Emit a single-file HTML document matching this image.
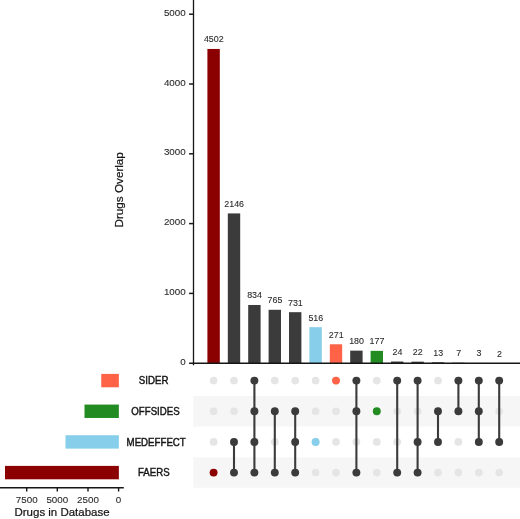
<!DOCTYPE html>
<html><head><meta charset="utf-8"><title>UpSet plot</title>
<style>
html,body{margin:0;padding:0;background:#fff}
svg{display:block}
text{font-family:"Liberation Sans",sans-serif;fill:#151515;stroke:#151515;stroke-width:0.22}
.s{stroke-width:0.42}
.t{fill:#2b2b2b;stroke:#2b2b2b;stroke-width:0.1}
</style></head><body>
<svg width="520" height="519" viewBox="0 0 520 519">
<rect width="520" height="519" fill="#fff"/>
<rect x="193.3" y="396.0" width="326.7" height="30.40" fill="#f6f6f6"/>
<rect x="193.3" y="457.4" width="326.7" height="30.35" fill="#f6f6f6"/>
<circle cx="213.60" cy="380.6" r="3.85" fill="#e5e5e5"/>
<circle cx="213.60" cy="411.27" r="3.85" fill="#e5e5e5"/>
<circle cx="213.60" cy="441.93" r="3.85" fill="#e5e5e5"/>
<circle cx="213.60" cy="472.6" r="3.85" fill="#e5e5e5"/>
<circle cx="234.00" cy="380.6" r="3.85" fill="#e5e5e5"/>
<circle cx="234.00" cy="411.27" r="3.85" fill="#e5e5e5"/>
<circle cx="234.00" cy="441.93" r="3.85" fill="#e5e5e5"/>
<circle cx="234.00" cy="472.6" r="3.85" fill="#e5e5e5"/>
<circle cx="254.40" cy="380.6" r="3.85" fill="#e5e5e5"/>
<circle cx="254.40" cy="411.27" r="3.85" fill="#e5e5e5"/>
<circle cx="254.40" cy="441.93" r="3.85" fill="#e5e5e5"/>
<circle cx="254.40" cy="472.6" r="3.85" fill="#e5e5e5"/>
<circle cx="274.80" cy="380.6" r="3.85" fill="#e5e5e5"/>
<circle cx="274.80" cy="411.27" r="3.85" fill="#e5e5e5"/>
<circle cx="274.80" cy="441.93" r="3.85" fill="#e5e5e5"/>
<circle cx="274.80" cy="472.6" r="3.85" fill="#e5e5e5"/>
<circle cx="295.20" cy="380.6" r="3.85" fill="#e5e5e5"/>
<circle cx="295.20" cy="411.27" r="3.85" fill="#e5e5e5"/>
<circle cx="295.20" cy="441.93" r="3.85" fill="#e5e5e5"/>
<circle cx="295.20" cy="472.6" r="3.85" fill="#e5e5e5"/>
<circle cx="315.60" cy="380.6" r="3.85" fill="#e5e5e5"/>
<circle cx="315.60" cy="411.27" r="3.85" fill="#e5e5e5"/>
<circle cx="315.60" cy="441.93" r="3.85" fill="#e5e5e5"/>
<circle cx="315.60" cy="472.6" r="3.85" fill="#e5e5e5"/>
<circle cx="336.00" cy="380.6" r="3.85" fill="#e5e5e5"/>
<circle cx="336.00" cy="411.27" r="3.85" fill="#e5e5e5"/>
<circle cx="336.00" cy="441.93" r="3.85" fill="#e5e5e5"/>
<circle cx="336.00" cy="472.6" r="3.85" fill="#e5e5e5"/>
<circle cx="356.40" cy="380.6" r="3.85" fill="#e5e5e5"/>
<circle cx="356.40" cy="411.27" r="3.85" fill="#e5e5e5"/>
<circle cx="356.40" cy="441.93" r="3.85" fill="#e5e5e5"/>
<circle cx="356.40" cy="472.6" r="3.85" fill="#e5e5e5"/>
<circle cx="376.80" cy="380.6" r="3.85" fill="#e5e5e5"/>
<circle cx="376.80" cy="411.27" r="3.85" fill="#e5e5e5"/>
<circle cx="376.80" cy="441.93" r="3.85" fill="#e5e5e5"/>
<circle cx="376.80" cy="472.6" r="3.85" fill="#e5e5e5"/>
<circle cx="397.20" cy="380.6" r="3.85" fill="#e5e5e5"/>
<circle cx="397.20" cy="411.27" r="3.85" fill="#e5e5e5"/>
<circle cx="397.20" cy="441.93" r="3.85" fill="#e5e5e5"/>
<circle cx="397.20" cy="472.6" r="3.85" fill="#e5e5e5"/>
<circle cx="417.60" cy="380.6" r="3.85" fill="#e5e5e5"/>
<circle cx="417.60" cy="411.27" r="3.85" fill="#e5e5e5"/>
<circle cx="417.60" cy="441.93" r="3.85" fill="#e5e5e5"/>
<circle cx="417.60" cy="472.6" r="3.85" fill="#e5e5e5"/>
<circle cx="438.00" cy="380.6" r="3.85" fill="#e5e5e5"/>
<circle cx="438.00" cy="411.27" r="3.85" fill="#e5e5e5"/>
<circle cx="438.00" cy="441.93" r="3.85" fill="#e5e5e5"/>
<circle cx="438.00" cy="472.6" r="3.85" fill="#e5e5e5"/>
<circle cx="458.40" cy="380.6" r="3.85" fill="#e5e5e5"/>
<circle cx="458.40" cy="411.27" r="3.85" fill="#e5e5e5"/>
<circle cx="458.40" cy="441.93" r="3.85" fill="#e5e5e5"/>
<circle cx="458.40" cy="472.6" r="3.85" fill="#e5e5e5"/>
<circle cx="478.80" cy="380.6" r="3.85" fill="#e5e5e5"/>
<circle cx="478.80" cy="411.27" r="3.85" fill="#e5e5e5"/>
<circle cx="478.80" cy="441.93" r="3.85" fill="#e5e5e5"/>
<circle cx="478.80" cy="472.6" r="3.85" fill="#e5e5e5"/>
<circle cx="499.20" cy="380.6" r="3.85" fill="#e5e5e5"/>
<circle cx="499.20" cy="411.27" r="3.85" fill="#e5e5e5"/>
<circle cx="499.20" cy="441.93" r="3.85" fill="#e5e5e5"/>
<circle cx="499.20" cy="472.6" r="3.85" fill="#e5e5e5"/>
<circle cx="213.60" cy="472.6" r="3.95" fill="#8b0000"/>
<line x1="234.00" y1="441.93" x2="234.00" y2="472.6" stroke="#3b3b3b" stroke-width="2.1"/>
<circle cx="234.00" cy="441.93" r="3.95" fill="#3b3b3b"/>
<circle cx="234.00" cy="472.6" r="3.95" fill="#3b3b3b"/>
<line x1="254.40" y1="380.6" x2="254.40" y2="472.6" stroke="#3b3b3b" stroke-width="2.1"/>
<circle cx="254.40" cy="380.6" r="3.95" fill="#3b3b3b"/>
<circle cx="254.40" cy="411.27" r="3.95" fill="#3b3b3b"/>
<circle cx="254.40" cy="441.93" r="3.95" fill="#3b3b3b"/>
<circle cx="254.40" cy="472.6" r="3.95" fill="#3b3b3b"/>
<line x1="274.80" y1="411.27" x2="274.80" y2="472.6" stroke="#3b3b3b" stroke-width="2.1"/>
<circle cx="274.80" cy="411.27" r="3.95" fill="#3b3b3b"/>
<circle cx="274.80" cy="472.6" r="3.95" fill="#3b3b3b"/>
<line x1="295.20" y1="411.27" x2="295.20" y2="472.6" stroke="#3b3b3b" stroke-width="2.1"/>
<circle cx="295.20" cy="411.27" r="3.95" fill="#3b3b3b"/>
<circle cx="295.20" cy="441.93" r="3.95" fill="#3b3b3b"/>
<circle cx="295.20" cy="472.6" r="3.95" fill="#3b3b3b"/>
<circle cx="315.60" cy="441.93" r="3.95" fill="#87ceeb"/>
<circle cx="336.00" cy="380.6" r="3.95" fill="#ff6347"/>
<line x1="356.40" y1="380.6" x2="356.40" y2="472.6" stroke="#3b3b3b" stroke-width="2.1"/>
<circle cx="356.40" cy="380.6" r="3.95" fill="#3b3b3b"/>
<circle cx="356.40" cy="411.27" r="3.95" fill="#3b3b3b"/>
<circle cx="356.40" cy="472.6" r="3.95" fill="#3b3b3b"/>
<circle cx="376.80" cy="411.27" r="3.95" fill="#228b22"/>
<line x1="397.20" y1="380.6" x2="397.20" y2="472.6" stroke="#3b3b3b" stroke-width="2.1"/>
<circle cx="397.20" cy="380.6" r="3.95" fill="#3b3b3b"/>
<circle cx="397.20" cy="472.6" r="3.95" fill="#3b3b3b"/>
<line x1="417.60" y1="380.6" x2="417.60" y2="472.6" stroke="#3b3b3b" stroke-width="2.1"/>
<circle cx="417.60" cy="380.6" r="3.95" fill="#3b3b3b"/>
<circle cx="417.60" cy="441.93" r="3.95" fill="#3b3b3b"/>
<circle cx="417.60" cy="472.6" r="3.95" fill="#3b3b3b"/>
<line x1="438.00" y1="411.27" x2="438.00" y2="441.93" stroke="#3b3b3b" stroke-width="2.1"/>
<circle cx="438.00" cy="411.27" r="3.95" fill="#3b3b3b"/>
<circle cx="438.00" cy="441.93" r="3.95" fill="#3b3b3b"/>
<line x1="458.40" y1="380.6" x2="458.40" y2="411.27" stroke="#3b3b3b" stroke-width="2.1"/>
<circle cx="458.40" cy="380.6" r="3.95" fill="#3b3b3b"/>
<circle cx="458.40" cy="411.27" r="3.95" fill="#3b3b3b"/>
<line x1="478.80" y1="380.6" x2="478.80" y2="441.93" stroke="#3b3b3b" stroke-width="2.1"/>
<circle cx="478.80" cy="380.6" r="3.95" fill="#3b3b3b"/>
<circle cx="478.80" cy="411.27" r="3.95" fill="#3b3b3b"/>
<circle cx="478.80" cy="441.93" r="3.95" fill="#3b3b3b"/>
<line x1="499.20" y1="380.6" x2="499.20" y2="441.93" stroke="#3b3b3b" stroke-width="2.1"/>
<circle cx="499.20" cy="380.6" r="3.95" fill="#3b3b3b"/>
<circle cx="499.20" cy="441.93" r="3.95" fill="#3b3b3b"/>
<rect x="207.40" y="48.96" width="12.4" height="314.24" fill="#8b0000"/>
<text x="213.80" y="42.46" class="t" font-size="8.9" text-anchor="middle">4502</text>
<rect x="227.80" y="213.41" width="12.4" height="149.79" fill="#3b3b3b"/>
<text x="234.20" y="206.91" class="t" font-size="8.9" text-anchor="middle">2146</text>
<rect x="248.20" y="304.99" width="12.4" height="58.21" fill="#3b3b3b"/>
<text x="254.60" y="298.49" class="t" font-size="8.9" text-anchor="middle">834</text>
<rect x="268.60" y="309.80" width="12.4" height="53.40" fill="#3b3b3b"/>
<text x="275.00" y="303.30" class="t" font-size="8.9" text-anchor="middle">765</text>
<rect x="289.00" y="312.18" width="12.4" height="51.02" fill="#3b3b3b"/>
<text x="295.40" y="305.68" class="t" font-size="8.9" text-anchor="middle">731</text>
<rect x="309.40" y="327.18" width="12.4" height="36.02" fill="#87ceeb"/>
<text x="315.80" y="320.68" class="t" font-size="8.9" text-anchor="middle">516</text>
<rect x="329.80" y="344.28" width="12.4" height="18.92" fill="#ff6347"/>
<text x="336.20" y="337.78" class="t" font-size="8.9" text-anchor="middle">271</text>
<rect x="350.20" y="350.64" width="12.4" height="12.56" fill="#3b3b3b"/>
<text x="356.60" y="344.14" class="t" font-size="8.9" text-anchor="middle">180</text>
<rect x="370.60" y="350.85" width="12.4" height="12.35" fill="#228b22"/>
<text x="377.00" y="344.35" class="t" font-size="8.9" text-anchor="middle">177</text>
<rect x="391.00" y="361.52" width="12.4" height="1.68" fill="#3b3b3b"/>
<text x="397.40" y="355.02" class="t" font-size="8.9" text-anchor="middle">24</text>
<rect x="411.40" y="361.66" width="12.4" height="1.54" fill="#3b3b3b"/>
<text x="417.80" y="355.16" class="t" font-size="8.9" text-anchor="middle">22</text>
<rect x="431.80" y="362.29" width="12.4" height="0.91" fill="#3b3b3b"/>
<text x="438.20" y="355.79" class="t" font-size="8.9" text-anchor="middle">13</text>
<rect x="452.20" y="362.71" width="12.4" height="0.49" fill="#3b3b3b"/>
<text x="458.60" y="356.21" class="t" font-size="8.9" text-anchor="middle">7</text>
<rect x="472.60" y="362.99" width="12.4" height="0.21" fill="#3b3b3b"/>
<text x="479.00" y="356.49" class="t" font-size="8.9" text-anchor="middle">3</text>
<rect x="493.00" y="363.06" width="12.4" height="0.14" fill="#3b3b3b"/>
<text x="499.40" y="356.56" class="t" font-size="8.9" text-anchor="middle">2</text>
<line x1="193.5" y1="0" x2="193.5" y2="365.2" stroke="#161616" stroke-width="1.3"/>
<line x1="189.1" y1="363.2" x2="520" y2="363.2" stroke="#161616" stroke-width="1.5"/>
<text x="185.7" y="364.70" class="t" font-size="9.8" text-anchor="end">0</text>
<line x1="189.1" y1="293.40" x2="193.5" y2="293.40" stroke="#161616" stroke-width="1.5"/>
<text x="185.7" y="294.90" class="t" font-size="9.8" text-anchor="end">1000</text>
<line x1="189.1" y1="223.60" x2="193.5" y2="223.60" stroke="#161616" stroke-width="1.5"/>
<text x="185.7" y="225.10" class="t" font-size="9.8" text-anchor="end">2000</text>
<line x1="189.1" y1="153.80" x2="193.5" y2="153.80" stroke="#161616" stroke-width="1.5"/>
<text x="185.7" y="155.30" class="t" font-size="9.8" text-anchor="end">3000</text>
<line x1="189.1" y1="84.00" x2="193.5" y2="84.00" stroke="#161616" stroke-width="1.5"/>
<text x="185.7" y="85.50" class="t" font-size="9.8" text-anchor="end">4000</text>
<line x1="189.1" y1="14.20" x2="193.5" y2="14.20" stroke="#161616" stroke-width="1.5"/>
<text x="185.7" y="15.70" class="t" font-size="9.8" text-anchor="end">5000</text>
<text transform="translate(123.1,189.8) rotate(-90)" font-size="11.7" text-anchor="middle">Drugs Overlap</text>
<text x="138.8" y="384.30" class="s" font-size="10.3" textLength="29.7" lengthAdjust="spacingAndGlyphs">SIDER</text>
<text x="131.3" y="414.97" class="s" font-size="10.3" textLength="48.4" lengthAdjust="spacingAndGlyphs">OFFSIDES</text>
<text x="126.6" y="445.63" class="s" font-size="10.3" textLength="59.2" lengthAdjust="spacingAndGlyphs">MEDEFFECT</text>
<text x="138.0" y="476.30" class="s" font-size="10.3" textLength="31.6" lengthAdjust="spacingAndGlyphs">FAERS</text>
<rect x="101.25" y="373.90" width="17.60" height="13.4" fill="#ff6347"/>
<rect x="84.5" y="404.57" width="34.35" height="13.4" fill="#228b22"/>
<rect x="65.5" y="435.23" width="53.35" height="13.4" fill="#87ceeb"/>
<rect x="5" y="465.90" width="113.85" height="13.4" fill="#8b0000"/>
<line x1="0" y1="487.85" x2="123.8" y2="487.85" stroke="#161616" stroke-width="1.5"/>
<line x1="118.6" y1="487.85" x2="118.6" y2="491.5" stroke="#161616" stroke-width="1.4"/>
<text x="118.6" y="502.5" class="t" font-size="9.8" text-anchor="middle">0</text>
<line x1="88.0" y1="487.85" x2="88.0" y2="491.5" stroke="#161616" stroke-width="1.4"/>
<text x="88.0" y="502.5" class="t" font-size="9.8" text-anchor="middle">2500</text>
<line x1="57.3" y1="487.85" x2="57.3" y2="491.5" stroke="#161616" stroke-width="1.4"/>
<text x="57.3" y="502.5" class="t" font-size="9.8" text-anchor="middle">5000</text>
<line x1="26.7" y1="487.85" x2="26.7" y2="491.5" stroke="#161616" stroke-width="1.4"/>
<text x="26.7" y="502.5" class="t" font-size="9.8" text-anchor="middle">7500</text>
<text x="14.5" y="516.2" font-size="11.6" textLength="95.1" lengthAdjust="spacingAndGlyphs">Drugs in Database</text>
</svg>
</body></html>
